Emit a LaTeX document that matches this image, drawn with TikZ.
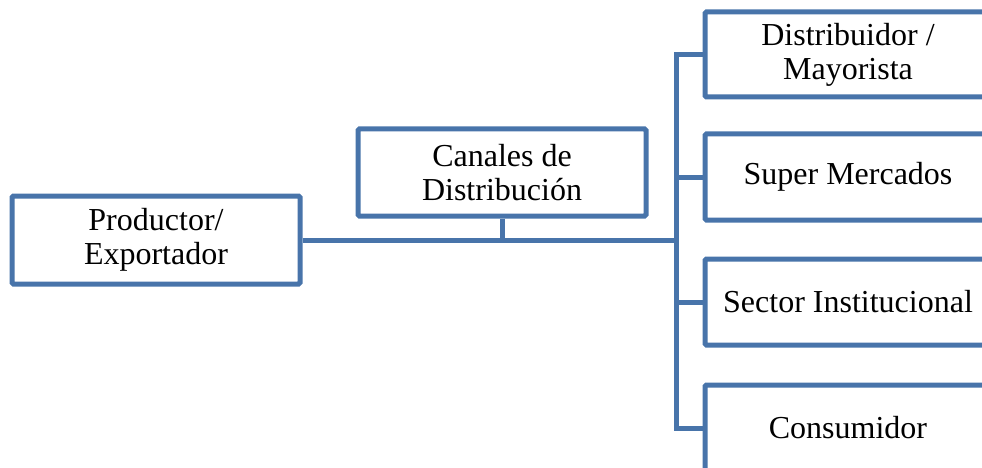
\documentclass[tikz,border=0pt]{standalone}
\usepackage{fontspec}
\setmainfont{Liberation Serif}
\definecolor{boxblue}{RGB}{72,116,170}
\tikzset{
  box/.style={draw=boxblue, line width=5pt, fill=white, rounded corners=1.5pt,
    align=center, inner sep=0pt, font=\fontsize{32}{34}\selectfont},
  link/.style={draw=boxblue, line width=5pt}
}
\begin{document}
\begin{tikzpicture}[x=1pt,y=-1pt]
\useasboundingbox (0,0) rectangle (982,468);
\clip (0,0) rectangle (982,468);
\coordinate (trunkx) at (676,0);
% connectors
\node[box, minimum width=288pt, minimum height=88pt] (P) at (156,240) {Productor/\\Exportador};
\node[box, minimum width=288pt, minimum height=87pt] (C) at (502,172.5) {Canales de\\Distribución};
\node[box, minimum width=286pt, minimum height=85pt] (A) at (848,54.5) {Distribuidor /\\Mayorista};
\node[box, minimum width=286pt, minimum height=86pt] (B) at (848,177) {Super Mercados};
\node[box, minimum width=286pt, minimum height=86pt] (S) at (848,302) {Sector Institucional};
\node[box, minimum width=286pt, minimum height=86pt] (D) at (848,428) {Consumidor};
\draw[link] (A.west) -- (A.west -| trunkx) -- (D.west -| trunkx) -- (D.west);
\draw[link] (B.west) -- (B.west -| trunkx);
\draw[link] (S.west) -- (S.west -| trunkx);
\draw[link] (P.east) -- (P.east -| trunkx);
\draw[link] (C.south) -- (C.south |- P.east);
\end{tikzpicture}
\end{document}
